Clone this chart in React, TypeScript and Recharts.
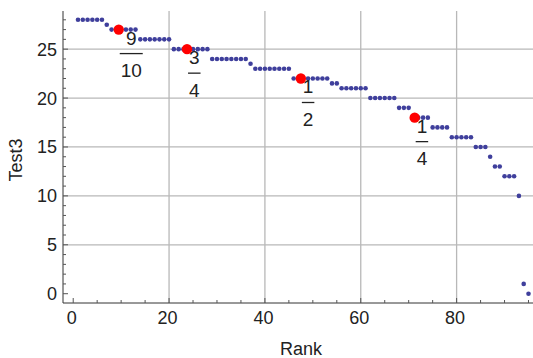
import React from 'react';
import { ScatterChart, Scatter, XAxis, YAxis, ReferenceLine } from 'recharts';

// Test3 scores, sorted, rank = position in list (1..95)
const scores = [
  28, 28, 28, 28, 28, 28, 27.5, 27, 27, 27, 27, 27, 27,
  26, 26, 26, 26, 26, 26, 26,
  25, 25, 25, 25, 25, 25, 25, 25,
  24, 24, 24, 24, 24, 24, 24, 24, 23.5,
  23, 23, 23, 23, 23, 23, 23, 23,
  22, 22, 22, 22, 22, 22, 22, 22, 21.5, 21.5,
  21, 21, 21, 21, 21, 21,
  20, 20, 20, 20, 20, 20,
  19, 19, 19, 18, 18, 18, 18, 17, 17, 17, 17,
  16, 16, 16, 16, 16, 15, 15, 15, 14, 13, 13, 12, 12, 12, 10, 1, 0,
];

// quantile markers
const quantileRanks = [9.5, 23.75, 47.5, 71.25];
const quantileValues = [27, 25, 22, 18];
const quantileNum = ['9', '3', '1', '1'];
const quantileDen = ['10', '4', '2', '4'];

const xTicks = [0, 5, 10, 15, 20, 25, 30, 35, 40, 45, 50, 55, 60, 65, 70, 75, 80, 85, 90, 95];
const xMajor = [0, 20, 40, 60, 80];
const yTicks = [0, 1, 2, 3, 4, 5, 6, 7, 8, 9, 10, 11, 12, 13, 14, 15, 16, 17, 18, 19, 20, 21, 22, 23, 24, 25, 26, 27, 28];
const yMajor = [0, 5, 10, 15, 20, 25];
const gridX = [20, 40, 60, 80];
const gridY = [5, 10, 15, 20, 25];

const points = scores.map((s, i) => ({ x: i + 1, y: s }));
const quantiles = quantileRanks.map((r, i) => ({
  x: r,
  y: quantileValues[i],
  num: quantileNum[i],
  den: quantileDen[i],
}));

const FONT = '"Liberation Sans", Arial, sans-serif';
const TICK = '#555';
const TEXT = '#222';

const BottomTick = (props: any) => {
  const { x, y, payload } = props;
  const major = xMajor.includes(payload.value);
  return (
    <g>
      <line x1={x} y1={y} x2={x} y2={y - (major ? 5 : 3)} stroke={TICK} />
      {major && (
        <text x={x - 1.5} y={y + 21} textAnchor="middle" fontSize={18} fontFamily={FONT} fill={TEXT}>
          {payload.value}
        </text>
      )}
    </g>
  );
};

const TopTick = (props: any) => {
  const { x, y, payload } = props;
  const major = xMajor.includes(payload.value);
  return <line x1={x} y1={y} x2={x} y2={y + (major ? 5 : 3)} stroke={TICK} />;
};

const LeftTick = (props: any) => {
  const { x, y, payload } = props;
  const major = yMajor.includes(payload.value);
  return (
    <g>
      <line x1={x} y1={y} x2={x + (major ? 5 : 3)} y2={y} stroke={TICK} />
      {major && (
        <text x={x - 6} y={y + 6.5} textAnchor="end" fontSize={18} fontFamily={FONT} fill={TEXT}>
          {payload.value}
        </text>
      )}
    </g>
  );
};

const RightTick = (props: any) => {
  const { x, y, payload } = props;
  const major = yMajor.includes(payload.value);
  return <line x1={x} y1={y} x2={x - (major ? 5 : 3)} y2={y} stroke={TICK} />;
};

const Dot = (props: any) => <circle cx={props.cx} cy={props.cy} r={2.3} fill="#3f3f9c" />;

const QuantileDot = (props: any) => {
  const { cx, cy, payload } = props;
  const w = payload.den.length * 10.5;
  const mid = cx + 2 + w / 2;
  return (
    <g>
      <circle cx={cx} cy={cy} r={5.2} fill="#ff0000" />
      <text x={mid} y={cy + 15} textAnchor="middle" fontSize={19} fontFamily={FONT} fill={TEXT}>
        {payload.num}
      </text>
      <line x1={mid - w / 2 - 1} y1={cy + 24} x2={mid + w / 2 + 1} y2={cy + 24} stroke={TEXT} strokeWidth={1.3} />
      <text x={mid} y={cy + 47.5} textAnchor="middle" fontSize={19} fontFamily={FONT} fill={TEXT}>
        {payload.den}
      </text>
    </g>
  );
};

const xDomain = [-2.13, 97.4];
const yDomain = [-0.95, 28.9];

export default function App() {
  return (
    <div style={{ position: 'absolute', left: 0, top: 0, width: 533, height: 358, overflow: 'hidden', background: '#fff' }}>
      <ScatterChart width={540} height={358} margin={{ top: 11, right: 0, bottom: 0, left: 0 }}>
        <XAxis
          xAxisId="b"
          type="number"
          dataKey="x"
          domain={xDomain}
          allowDataOverflow
          ticks={xTicks}
          interval={0}
          height={55}
          tickSize={0}
          tickMargin={0}
          tickLine={false}
          axisLine={{ stroke: '#333' }}
          tick={<BottomTick />}
          label={() => (
            <text x={301} y={355} textAnchor="middle" fontSize={18} fontFamily={FONT} fill={TEXT}>
              Rank
            </text>
          )}
        />
        <XAxis
          xAxisId="t"
          orientation="top"
          type="number"
          dataKey="x"
          domain={xDomain}
          allowDataOverflow
          ticks={xTicks}
          interval={0}
          height={0}
          tickSize={0}
          tickMargin={0}
          tickLine={false}
          axisLine={{ stroke: '#333' }}
          tick={<TopTick />}
        />
        <YAxis
          yAxisId="l"
          type="number"
          dataKey="y"
          domain={yDomain}
          allowDataOverflow
          ticks={yTicks}
          interval={0}
          width={63}
          tickSize={0}
          tickMargin={0}
          tickLine={false}
          axisLine={{ stroke: '#333' }}
          tick={<LeftTick />}
          label={() => (
            <text
              x={16}
              y={160}
              transform="rotate(-90 16 160)"
              textAnchor="middle"
              dominantBaseline="central"
              fontSize={18}
              fontFamily={FONT}
              fill={TEXT}
            >
              Test3
            </text>
          )}
        />
        <YAxis
          yAxisId="r"
          orientation="right"
          type="number"
          dataKey="y"
          domain={yDomain}
          allowDataOverflow
          ticks={yTicks}
          interval={0}
          width={0}
          tickSize={0}
          tickMargin={0}
          tickLine={false}
          axisLine={{ stroke: '#333' }}
          tick={<RightTick />}
        />
        {gridX.map((v) => (
          <ReferenceLine key={'gx' + v} x={v} xAxisId="b" yAxisId="l" stroke="#b8b8b8" strokeWidth={1.3} />
        ))}
        {gridY.map((v) => (
          <ReferenceLine key={'gy' + v} y={v} xAxisId="b" yAxisId="l" stroke="#b8b8b8" strokeWidth={1.3} />
        ))}
        <Scatter data={points} xAxisId="b" yAxisId="l" shape={<Dot />} isAnimationActive={false} />
        <Scatter data={quantiles} xAxisId="b" yAxisId="l" shape={<QuantileDot />} isAnimationActive={false} />
      </ScatterChart>
    </div>
  );
}
